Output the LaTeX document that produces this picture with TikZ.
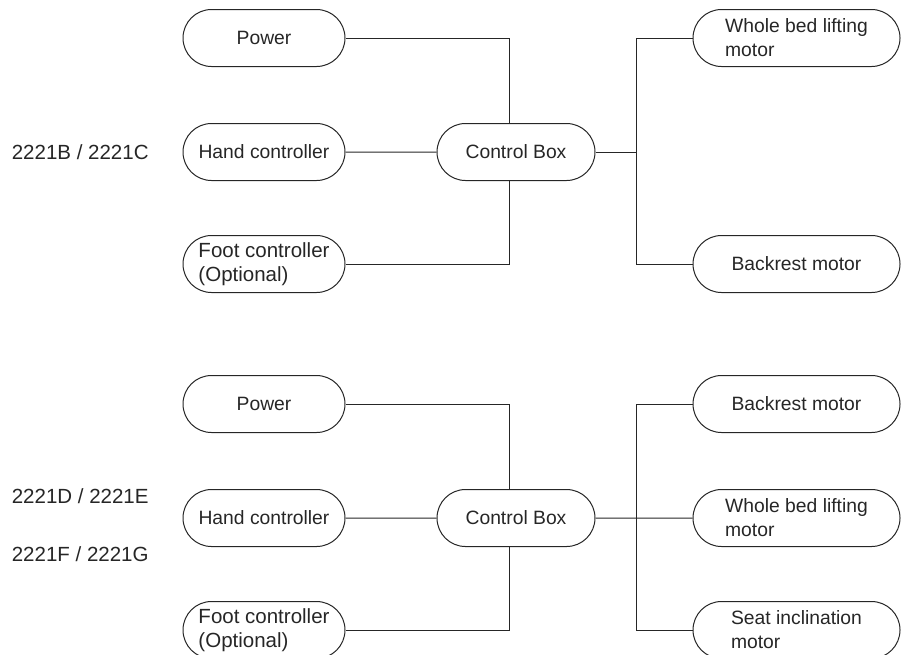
\documentclass[tikz,border=0pt]{standalone}
\usepackage{fontspec}
\setmainfont{Liberation Sans}
\usetikzlibrary{shapes.misc}
\tikzset{
     part/.style={draw, rounded rectangle, minimum height=57pt, inner sep=0pt, align=left},
     partL/.style={part, minimum width=162pt},
     partC/.style={part, minimum width=158pt},
     partR/.style={part, minimum width=207pt},
     partF/.style={partL, font=\fontsize{20.5}{23.5}\selectfont},
     model/.style={anchor=west, font=\fontsize{20.5}{24}\selectfont},
}
\def\jx{636}

\begin{document}
\begin{tikzpicture}[x=1pt, y=-1pt, font=\fontsize{19.3}{24}\selectfont, line width=1pt, color=black!85]
     \useasboundingbox (0,0) rectangle (901,654);

     % 2221B / 2221C
     \begin{scope}[shift={(0,0)}]
       \node[model] (mdlA) at (8,152) {2221B / 2221C};
       \node[partL] (pwrA) at (264,38) {Power};
       \node[partL] (handA) at (264,152) {Hand controller};
       \node[partF] (footA) at (264,264) {Foot controller\\(Optional)};
       \node[partC] (boxA) at (516,152) {Control Box};
       \node[partR] (liftA) at (796.5,38) {Whole bed lifting\\motor};
       \node[partR] (backA) at (796.5,264) {Backrest motor};
       \coordinate (jA) at (\jx,152);

       \draw (pwrA.east) -| ([xshift=-7pt]boxA.north);
       \draw (footA.east) -| ([xshift=-7pt]boxA.south);
       \draw (handA) -- (boxA);
       \draw (boxA.east) -- (jA);
       \draw (liftA.west) -| (jA) |- (backA.west);
     \end{scope}

     % 2221D / 2221E, 2221F / 2221G
     \begin{scope}[shift={(0,366)}]
       \node[model] (mdlB) at (8,130) {2221D / 2221E};
       \node[model] (mdlC) at (8,188) {2221F / 2221G};
       \node[partL] (pwrB) at (264,38) {Power};
       \node[partL] (handB) at (264,152) {Hand controller};
       \node[partF] (footB) at (264,264) {Foot controller\\(Optional)};
       \node[partC] (boxB) at (516,152) {Control Box};
       \node[partR] (backB) at (796.5,38) {Backrest motor};
       \node[partR] (liftB) at (796.5,152) {Whole bed lifting\\motor};
       \node[partR] (seatB) at (796.5,264) {Seat inclination\\motor};
       \coordinate (jB) at (\jx,152);

       \draw (pwrB.east) -| ([xshift=-7pt]boxB.north);
       \draw (footB.east) -| ([xshift=-7pt]boxB.south);
       \draw (handB) -- (boxB);
       \draw (boxB) -- (liftB);
       \draw (backB.west) -| (jB) |- (seatB.west);
     \end{scope}
\end{tikzpicture}
\end{document}
